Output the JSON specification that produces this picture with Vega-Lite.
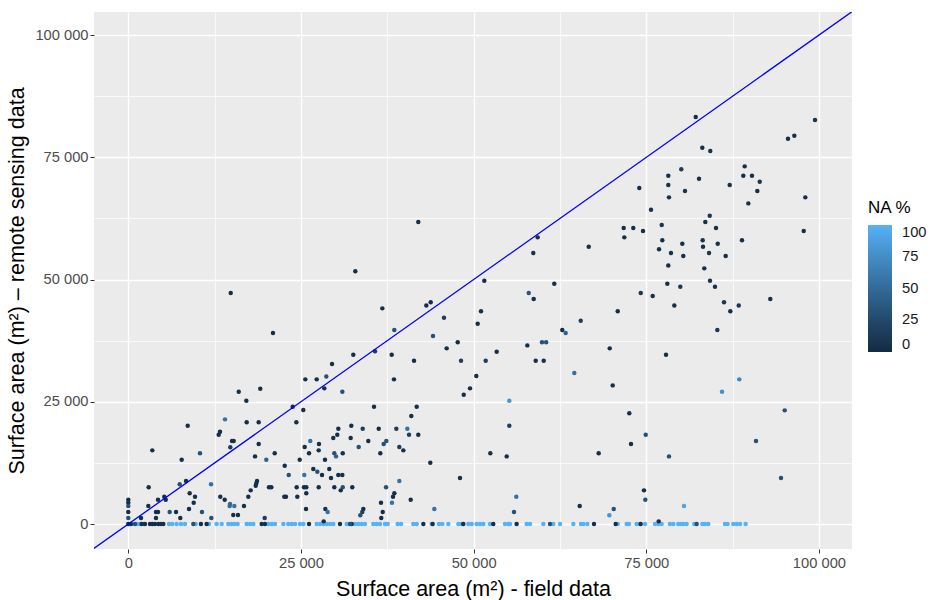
{
"$schema":"https://vega.github.io/schema/vega-lite/v6.json",
"width":758,"height":537,
"autosize":"none",
"padding":{"left":94,"top":12,"right":79,"bottom":51},
"background":"white",
"config":{
 "font":"Liberation Sans",
 "view":{"fill":"#EBEBEB","stroke":null}
},
"datasets":{
"ref":[{"field":-20000,"remote":-20000},{"field":120000,"remote":120000}],
"pts":[
{"field":0,"remote":0,"na":100},{"field":1350,"remote":0,"na":100},{"field":1690,"remote":0,"na":100},{"field":2170,"remote":0,"na":100},{"field":5890,"remote":0,"na":100},{"field":6370,"remote":0,"na":100},{"field":7000,"remote":0,"na":100},{"field":7630,"remote":0,"na":100},{"field":8210,"remote":0,"na":100},{"field":9750,"remote":0,"na":100},{"field":11680,"remote":0,"na":100},{"field":12790,"remote":0,"na":100},{"field":13520,"remote":0,"na":100},{"field":14480,"remote":0,"na":100},{"field":14960,"remote":0,"na":100},{"field":15350,"remote":0,"na":100},{"field":15830,"remote":0,"na":100},{"field":17140,"remote":0,"na":100},{"field":17620,"remote":0,"na":100},{"field":18100,"remote":0,"na":100},{"field":20270,"remote":0,"na":100},{"field":20760,"remote":0,"na":100},{"field":21240,"remote":0,"na":100},{"field":22450,"remote":0,"na":100},
{"field":23170,"remote":0,"na":100},{"field":23660,"remote":0,"na":100},{"field":24140,"remote":0,"na":100},{"field":24860,"remote":0,"na":100},{"field":25350,"remote":0,"na":100},{"field":27280,"remote":0,"na":100},{"field":27760,"remote":0,"na":100},{"field":28240,"remote":0,"na":100},{"field":28720,"remote":0,"na":100},{"field":29210,"remote":0,"na":100},{"field":29690,"remote":0,"na":100},{"field":31620,"remote":0,"na":100},{"field":32830,"remote":0,"na":100},{"field":33310,"remote":0,"na":100},{"field":33790,"remote":0,"na":100},{"field":34270,"remote":0,"na":100},{"field":35480,"remote":0,"na":100},{"field":35960,"remote":0,"na":100},{"field":36450,"remote":0,"na":100},{"field":37170,"remote":0,"na":100},{"field":37560,"remote":0,"na":100},{"field":39000,"remote":0,"na":100},{"field":39490,"remote":0,"na":100},{"field":41270,"remote":0,"na":100},{"field":41760,"remote":0,"na":100},{"field":43930,"remote":0,"na":100},{"field":44990,"remote":0,"na":100},{"field":45470,"remote":0,"na":100},{"field":46340,"remote":0,"na":100},{"field":47790,"remote":0,"na":100},{"field":48270,"remote":0,"na":100},{"field":49240,"remote":0,"na":100},{"field":49720,"remote":0,"na":100},
{"field":50440,"remote":0,"na":100},{"field":50920,"remote":0,"na":100},{"field":51410,"remote":0,"na":100},{"field":52370,"remote":0,"na":100},{"field":54540,"remote":0,"na":100},{"field":55030,"remote":0,"na":100},{"field":55270,"remote":0,"na":100},{"field":57680,"remote":0,"na":100},{"field":58160,"remote":0,"na":100},{"field":60100,"remote":0,"na":100},{"field":61540,"remote":0,"na":100},{"field":62510,"remote":0,"na":100},{"field":64440,"remote":0,"na":100},{"field":65550,"remote":0,"na":100},{"field":65890,"remote":0,"na":100},{"field":66470,"remote":0,"na":100},{"field":70860,"remote":0,"na":100},{"field":72160,"remote":0,"na":100},{"field":72500,"remote":0,"na":100},{"field":73610,"remote":0,"na":100},{"field":74090,"remote":0,"na":100},{"field":74820,"remote":0,"na":100},{"field":76270,"remote":0,"na":100},{"field":76750,"remote":0,"na":100},{"field":77230,"remote":0,"na":100},
{"field":78430,"remote":0,"na":100},{"field":78920,"remote":0,"na":100},{"field":79640,"remote":0,"na":100},{"field":80030,"remote":0,"na":100},{"field":80360,"remote":0,"na":100},{"field":80850,"remote":0,"na":100},{"field":81960,"remote":0,"na":100},{"field":83120,"remote":0,"na":100},{"field":83500,"remote":0,"na":100},{"field":83980,"remote":0,"na":100},{"field":86400,"remote":0,"na":100},{"field":86780,"remote":0,"na":100},{"field":87600,"remote":0,"na":100},{"field":88090,"remote":0,"na":100},{"field":88570,"remote":0,"na":100},{"field":89390,"remote":0,"na":100},
{"field":0,"remote":0,"na":3},{"field":390,"remote":0,"na":3},{"field":1930,"remote":0,"na":3},{"field":2410,"remote":0,"na":3},{"field":3140,"remote":0,"na":3},{"field":3480,"remote":0,"na":3},{"field":3860,"remote":0,"na":3},{"field":4340,"remote":0,"na":3},{"field":4730,"remote":0,"na":3},{"field":5070,"remote":0,"na":3},{"field":10520,"remote":0,"na":3},{"field":11340,"remote":0,"na":3},{"field":19310,"remote":0,"na":3},{"field":19790,"remote":0,"na":3},{"field":26170,"remote":0,"na":3},{"field":30650,"remote":0,"na":3},{"field":32340,"remote":0,"na":3},{"field":42720,"remote":0,"na":3},{"field":44070,"remote":0,"na":3},{"field":48510,"remote":0,"na":3},{"field":52850,"remote":0,"na":3},{"field":56230,"remote":0,"na":3},{"field":67430,"remote":0,"na":3},{"field":70570,"remote":0,"na":3},{"field":74190,"remote":0,"na":3},
{"field":970,"remote":0,"na":30},{"field":9410,"remote":0,"na":30},{"field":32100,"remote":0,"na":30},{"field":61060,"remote":0,"na":30},{"field":82300,"remote":0,"na":30},
{"field":82160,"remote":83230,"na":3},{"field":83115,"remote":76950,"na":3},{"field":84270,"remote":76280,"na":5},{"field":95525,"remote":78790,"na":3},{"field":96440,"remote":79410,"na":5},{"field":99434,"remote":82620,"na":10},
{"field":78190,"remote":71230,"na":5},{"field":80070,"remote":72540,"na":15},{"field":82640,"remote":70610,"na":5},{"field":78190,"remote":69330,"na":5},{"field":80610,"remote":68100,"na":10},{"field":78290,"remote":66810,"na":5},
{"field":89250,"remote":73150,"na":5},{"field":89050,"remote":71230,"na":3},{"field":90310,"remote":71230,"na":5},{"field":91430,"remote":70000,"na":10},{"field":87080,"remote":69330,"na":5},{"field":91080,"remote":68100,"na":3},{"field":89780,"remote":65580,"na":5},{"field":98030,"remote":66810,"na":3},
{"field":84190,"remote":63050,"na":10},{"field":83550,"remote":61760,"na":5},{"field":85100,"remote":60530,"na":5},{"field":97800,"remote":59920,"na":3},
{"field":80220,"remote":57320,"na":3},{"field":83170,"remote":58020,"na":5},{"field":83220,"remote":56710,"na":3},{"field":85350,"remote":57320,"na":5},{"field":88860,"remote":58020,"na":3},
{"field":73990,"remote":68710,"na":3},{"field":75690,"remote":64270,"na":5},{"field":71730,"remote":60530,"na":3},{"field":73120,"remote":60530,"na":3},{"field":74530,"remote":59920,"na":3},{"field":77240,"remote":61150,"na":10},{"field":71820,"remote":58630,"na":3},{"field":77320,"remote":58020,"na":3},{"field":76850,"remote":56180,"na":3},{"field":59280,"remote":58630,"na":5},{"field":66670,"remote":56710,"na":5},
{"field":78580,"remote":55420,"na":5},{"field":80360,"remote":54810,"na":3},{"field":84090,"remote":55420,"na":10},{"field":86500,"remote":54810,"na":3},{"field":78190,"remote":52900,"na":3},{"field":83400,"remote":52290,"na":3},
{"field":78050,"remote":49140,"na":3},{"field":79930,"remote":48530,"na":10},{"field":84230,"remote":49750,"na":10},{"field":84950,"remote":48530,"na":5},
{"field":79060,"remote":44720,"na":3},{"field":86260,"remote":45340,"na":10},{"field":88390,"remote":44720,"na":10},{"field":87170,"remote":43500,"na":3},{"field":92960,"remote":46010,"na":3},
{"field":85290,"remote":39670,"na":10},{"field":77860,"remote":34620,"na":3},{"field":88470,"remote":29590,"na":70},{"field":85970,"remote":27060,"na":75},
{"field":58640,"remote":55420,"na":5},{"field":51550,"remote":49750,"na":3},{"field":61680,"remote":49140,"na":3},{"field":57980,"remote":47240,"na":35},{"field":58700,"remote":46010,"na":3},{"field":51070,"remote":43500,"na":5},{"field":50590,"remote":40960,"na":3},
{"field":74200,"remote":47240,"na":10},{"field":75930,"remote":46630,"na":5},{"field":70870,"remote":43500,"na":3},{"field":65510,"remote":41570,"na":15},{"field":62840,"remote":39670,"na":3},{"field":63330,"remote":39060,"na":45},
{"field":59900,"remote":37160,"na":30},{"field":60500,"remote":37160,"na":30},{"field":57780,"remote":36540,"na":3},{"field":53340,"remote":35240,"na":3},{"field":51750,"remote":33390,"na":15},{"field":58990,"remote":33390,"na":5},{"field":60150,"remote":33390,"na":5},
{"field":50390,"remote":30270,"na":3},{"field":69710,"remote":35930,"na":3},{"field":64580,"remote":30880,"na":55},{"field":70140,"remote":28360,"na":3},{"field":55170,"remote":25220,"na":80},
{"field":32870,"remote":51680,"na":3},{"field":36780,"remote":44110,"na":3},{"field":43150,"remote":44720,"na":3},{"field":43790,"remote":45340,"na":3},{"field":45710,"remote":42190,"na":15},{"field":38520,"remote":39670,"na":30},{"field":44120,"remote":38450,"na":30},{"field":47700,"remote":37160,"na":3},{"field":46100,"remote":35930,"na":3},{"field":48180,"remote":33390,"na":15},
{"field":32580,"remote":34620,"na":3},{"field":35720,"remote":35320,"na":15},{"field":38140,"remote":34620,"na":3},{"field":41370,"remote":33390,"na":3},{"field":29500,"remote":32720,"na":3},
{"field":25630,"remote":29590,"na":3},{"field":27280,"remote":29590,"na":3},{"field":28670,"remote":30200,"na":30},{"field":28380,"remote":27750,"na":3},{"field":30990,"remote":27060,"na":30},{"field":38470,"remote":29590,"na":3},{"field":49480,"remote":27750,"na":3},{"field":48570,"remote":26440,"na":3},
{"field":14830,"remote":47240,"na":3},{"field":20950,"remote":39060,"na":3},{"field":19110,"remote":27670,"na":3},{"field":15990,"remote":27060,"na":3},{"field":17090,"remote":25220,"na":3},
{"field":41990,"remote":61760,"na":3},
{"field":8600,"remote":20100,"na":3},{"field":14000,"remote":21410,"na":55},{"field":17140,"remote":20800,"na":3},{"field":18880,"remote":20800,"na":3},{"field":13280,"remote":18880,"na":3},{"field":13090,"remote":18260,"na":3},{"field":15020,"remote":16970,"na":3},{"field":15260,"remote":16970,"na":3},{"field":14770,"remote":15690,"na":15},{"field":18880,"remote":16360,"na":3},{"field":3475,"remote":15070,"na":3},{"field":10380,"remote":14460,"na":30},{"field":7730,"remote":13150,"na":3},{"field":18350,"remote":13840,"na":3},{"field":19980,"remote":13150,"na":45},{"field":21200,"remote":14460,"na":3},{"field":22650,"remote":11920,"na":3},
{"field":8360,"remote":8790,"na":3},{"field":7440,"remote":8120,"na":30},{"field":11980,"remote":8120,"na":55},{"field":18640,"remote":8790,"na":3},{"field":18530,"remote":8320,"na":3},{"field":18450,"remote":7830,"na":3},{"field":17720,"remote":6890,"na":3},{"field":20370,"remote":7510,"na":3},{"field":20710,"remote":7510,"na":3},{"field":2950,"remote":7510,"na":3},
{"field":8890,"remote":6280,"na":3},{"field":9660,"remote":5580,"na":3},{"field":9470,"remote":4360,"na":3},{"field":8790,"remote":3070,"na":3},{"field":10670,"remote":2450,"na":30},{"field":13320,"remote":5580,"na":3},{"field":13960,"remote":4970,"na":3},{"field":14730,"remote":4090,"na":50},{"field":14680,"remote":3680,"na":50},{"field":15350,"remote":3680,"na":55},{"field":15200,"remote":1840,"na":3},{"field":15880,"remote":1840,"na":3},{"field":16750,"remote":3680,"na":3},{"field":17380,"remote":5580,"na":3},{"field":22590,"remote":5580,"na":3},{"field":19750,"remote":1230,"na":15},{"field":12020,"remote":1230,"na":30},
{"field":0,"remote":4970,"na":3},{"field":0,"remote":4360,"na":3},{"field":0,"remote":3680,"na":30},{"field":0,"remote":2450,"na":3},{"field":2900,"remote":3680,"na":3},{"field":4300,"remote":4970,"na":3},{"field":5210,"remote":5580,"na":3},{"field":5420,"remote":4970,"na":3},{"field":4010,"remote":2450,"na":3},{"field":4300,"remote":2450,"na":3},{"field":5990,"remote":2450,"na":30},{"field":6910,"remote":2450,"na":3},{"field":4010,"remote":1230,"na":3},{"field":1840,"remote":1230,"na":3},{"field":7530,"remote":1230,"na":3},{"field":0,"remote":1230,"na":30},
{"field":23800,"remote":23990,"na":3},{"field":25340,"remote":23310,"na":3},{"field":24330,"remote":20800,"na":3},{"field":35580,"remote":23990,"na":3},{"field":41760,"remote":23990,"na":3},{"field":40980,"remote":22090,"na":3},
{"field":30410,"remote":19490,"na":3},{"field":30260,"remote":18260,"na":3},{"field":29680,"remote":17590,"na":3},{"field":32290,"remote":20100,"na":3},{"field":33940,"remote":19490,"na":15},{"field":36260,"remote":19490,"na":3},{"field":38810,"remote":19490,"na":15},{"field":40400,"remote":19490,"na":55},{"field":40650,"remote":18260,"na":15},{"field":41990,"remote":18260,"na":3},
{"field":32200,"remote":17590,"na":3},{"field":34750,"remote":16970,"na":3},{"field":26350,"remote":16970,"na":55},{"field":27610,"remote":16360,"na":3},{"field":27570,"remote":15070,"na":3},{"field":25540,"remote":15750,"na":3},{"field":26170,"remote":14460,"na":3},{"field":29830,"remote":14460,"na":30},{"field":30080,"remote":13840,"na":45},{"field":31050,"remote":14460,"na":3},{"field":33360,"remote":15750,"na":30},{"field":36980,"remote":16360,"na":30},{"field":37360,"remote":16970,"na":30},{"field":36490,"remote":14460,"na":3},{"field":39240,"remote":15750,"na":15},{"field":39820,"remote":15070,"na":3},
{"field":28480,"remote":13150,"na":3},{"field":24820,"remote":13150,"na":3},{"field":26790,"remote":11250,"na":3},{"field":27370,"remote":10700,"na":30},{"field":28050,"remote":10020,"na":3},{"field":29100,"remote":11250,"na":3},{"field":29350,"remote":9410,"na":3},{"field":30410,"remote":10020,"na":3},{"field":30990,"remote":10020,"na":3},{"field":23230,"remote":10020,"na":30},{"field":25480,"remote":10020,"na":55},
{"field":24380,"remote":7510,"na":3},{"field":25440,"remote":7510,"na":3},{"field":25770,"remote":7510,"na":3},{"field":27570,"remote":7510,"na":3},{"field":29830,"remote":7510,"na":3},{"field":31050,"remote":7510,"na":30},{"field":30760,"remote":6890,"na":3},{"field":32430,"remote":7510,"na":3},{"field":37320,"remote":7510,"na":30},{"field":25770,"remote":6280,"na":3},{"field":22830,"remote":5580,"na":3},{"field":24470,"remote":5580,"na":3},{"field":39240,"remote":8790,"na":55},{"field":38520,"remote":6280,"na":3},{"field":38330,"remote":5580,"na":3},{"field":40890,"remote":4970,"na":3},{"field":38180,"remote":4360,"na":55},{"field":36590,"remote":4360,"na":3},{"field":43730,"remote":12540,"na":3},{"field":48030,"remote":9410,"na":3},
{"field":25730,"remote":3070,"na":3},{"field":28530,"remote":3070,"na":3},{"field":28870,"remote":2450,"na":55},{"field":34030,"remote":3070,"na":3},{"field":33880,"remote":2450,"na":15},{"field":33590,"remote":1780,"na":30},{"field":36840,"remote":2450,"na":3},{"field":36630,"remote":1230,"na":3},{"field":44310,"remote":3070,"na":55},{"field":28290,"remote":550,"na":3},
{"field":72540,"remote":22640,"na":3},{"field":74920,"remote":18260,"na":30},{"field":72790,"remote":16360,"na":3},{"field":68110,"remote":14460,"na":3},{"field":55170,"remote":20100,"na":15},{"field":52420,"remote":14460,"na":3},{"field":54790,"remote":13840,"na":3},{"field":56180,"remote":5580,"na":55},{"field":55850,"remote":2450,"na":30},{"field":65360,"remote":3680,"na":3},{"field":70290,"remote":3070,"na":30},{"field":69650,"remote":1780,"na":80},{"field":74670,"remote":6890,"na":3},{"field":74860,"remote":4970,"na":30},{"field":76800,"remote":550,"na":3},
{"field":95050,"remote":23250,"na":30},{"field":90890,"remote":16970,"na":30},{"field":78290,"remote":13840,"na":30},{"field":94510,"remote":9410,"na":30},{"field":80470,"remote":3680,"na":90}
]},
"encoding":{
 "x":{"field":"field","type":"quantitative","scale":{"domain":[-4967,104790],"nice":false,"zero":false},
  "axis":{"title":"Surface area (m²) - field data",
   "values":[0,12500,25000,37500,50000,62500,75000,87500,100000],
   "labelExpr":"datum.value % 25000 === 0 ? replace(format(datum.value, ','), ',', ' ') : ''",
   "grid":true,"gridColor":"white",
   "gridWidth":{"condition":{"test":"datum.value % 25000 === 0","value":1.4},"value":0.7},
   "tickColor":"#333333",
   "tickOpacity":{"condition":{"test":"datum.value % 25000 === 0","value":1},"value":0},
   "tickSize":4,"tickWidth":1,"domain":false,
   "labelColor":"#4D4D4D","labelFontSize":14.7,"labelPadding":2,"labelFlush":false,"labelOverlap":false,
   "titleColor":"black","titleFontSize":21.5,"titleFontWeight":"normal","titlePadding":9}},
 "y":{"field":"remote","type":"quantitative","scale":{"domain":[-5100,104720],"nice":false,"zero":false},
  "axis":{"title":"Surface area (m²) – remote sensing data",
   "values":[0,12500,25000,37500,50000,62500,75000,87500,100000],
   "labelExpr":"datum.value % 25000 === 0 ? replace(format(datum.value, ','), ',', ' ') : ''",
   "grid":true,"gridColor":"white",
   "gridWidth":{"condition":{"test":"datum.value % 25000 === 0","value":1.4},"value":0.7},
   "tickColor":"#333333",
   "tickOpacity":{"condition":{"test":"datum.value % 25000 === 0","value":1},"value":0},
   "tickSize":4,"tickWidth":1,"domain":false,
   "labelColor":"#4D4D4D","labelFontSize":14.7,"labelPadding":2,"labelFlush":false,"labelOverlap":false,
   "titleColor":"black","titleFontSize":21.5,"titleFontWeight":"normal","titlePadding":6}}
},
"layer":[
 {"data":{"name":"pts"},
  "mark":{"type":"point","filled":true,"opacity":1,"size":20,"strokeWidth":0,"clip":true},
  "encoding":{
   "color":{"field":"na","type":"quantitative",
     "scale":{"domain":[0,100],"range":["#132B43","#56B1F7"],"interpolate":"lab"},
     "legend":{"title":"NA %","orient":"none","legendX":774,"legendY":188,"direction":"vertical",
       "gradientLength":127,"gradientThickness":24,"gradientStrokeWidth":0,"values":[0,25,50,75,100],
       "titleFontSize":17,"titleFontWeight":"normal","titleColor":"black","titlePadding":8,
       "labelFontSize":14.7,"labelColor":"#1A1A1A","labelOffset":10,"padding":0}}
  }},
 {"data":{"name":"ref"},
  "mark":{"type":"line","color":"#0000FF","strokeWidth":1.3,"clip":true},
  "encoding":{}}
]
}
